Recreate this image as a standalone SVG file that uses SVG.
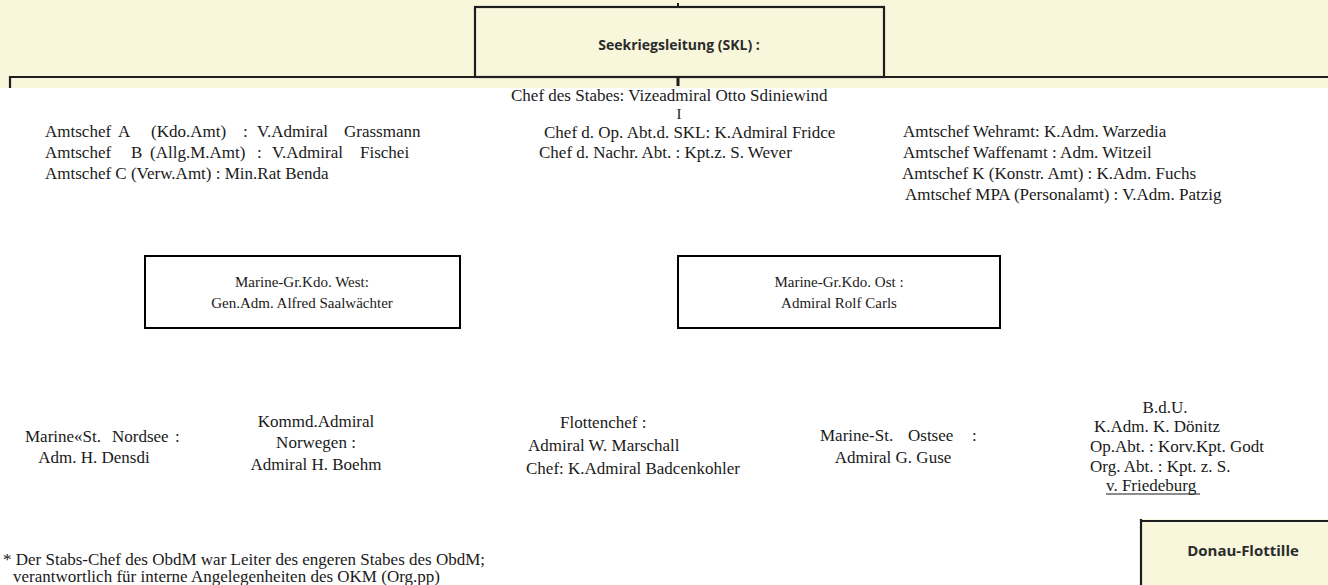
<svg xmlns="http://www.w3.org/2000/svg" width="1328" height="585" viewBox="0 0 1328 585">
  <style>
    .t { font-family: "Liberation Serif", "DejaVu Serif", serif; font-size: 17px; fill: #1a1a1a; }
    .bt { font-family: "Liberation Serif", "DejaVu Serif", serif; font-size: 15px; fill: #1a1a1a; }
    .hd { font-family: "Open Sans", "DejaVu Sans", sans-serif; font-weight: bold; font-size: 14px; fill: #2b2b2b; }
    .box { fill: #ffffff; stroke: #000000; stroke-width: 2; }
    .ln { stroke: #1e1e1e; stroke-width: 2.2; fill: none; }
    .cream { fill: #f8f7dc; }
  </style>
  <rect x="0" y="0" width="1328" height="585" fill="#ffffff"/>
  <rect class="cream" x="0" y="0" width="1328" height="88"/>

  <g id="connectors">
    <line class="ln" x1="10" y1="77" x2="1328" y2="77"/>
    <line class="ln" x1="10" y1="76" x2="10" y2="88"/>
    <line x1="678" y1="76" x2="678" y2="86" stroke="#1e1e1e" stroke-width="3"/>
    <line x1="678" y1="3" x2="678" y2="8" stroke="#1e1e1e" stroke-width="2"/>
  </g>

  <g id="skl">
    <rect x="475" y="7" width="409" height="70" fill="none" stroke="#1e1e1e" stroke-width="2.2"/>
    <text class="hd" x="679" y="50" text-anchor="middle">Seekriegsleitung (SKL) :</text>
  </g>

  <g id="stab">
    <text class="t" x="511" y="101">Chef des Stabes: Vizeadmiral Otto Sdiniewind</text>
    <text class="t" x="679" y="119" text-anchor="middle" style="font-size:15px">I</text>
    <text class="t" x="544" y="138">Chef d. Op. Abt.d. SKL: K.Admiral Fridce</text>
    <text class="t" x="539" y="158">Chef d. Nachr. Abt. : Kpt.z. S. Wever</text>
  </g>

  <g id="amtschef-left">
    <text class="t" y="137"><tspan x="45">Amtschef</tspan><tspan x="118">A</tspan><tspan x="151">(Kdo.Amt)</tspan><tspan x="243">:</tspan><tspan x="257">V.Admiral</tspan><tspan x="344">Grassmann</tspan></text>
    <text class="t" y="158"><tspan x="45">Amtschef</tspan><tspan x="131">B</tspan><tspan x="150">(Allg.M.Amt)</tspan><tspan x="257">:</tspan><tspan x="272">V.Admiral</tspan><tspan x="360">Fischei</tspan></text>
    <text class="t" x="45" y="179">Amtschef C (Verw.Amt) : Min.Rat Benda</text>
  </g>

  <g id="amtschef-right">
    <text class="t" x="903" y="137">Amtschef Wehramt: K.Adm. Warzedia</text>
    <text class="t" x="903" y="158">Amtschef Waffenamt : Adm. Witzeil</text>
    <text class="t" x="902" y="179">Amtschef K (Konstr. Amt) : K.Adm. Fuchs</text>
    <text class="t" x="905" y="200">Amtschef MPA (Personalamt) : V.Adm. Patzig</text>
  </g>

  <g id="gruppe-west">
    <rect class="box" x="145" y="256" width="315" height="72"/>
    <text class="bt" x="302" y="287" text-anchor="middle">Marine-Gr.Kdo. West:</text>
    <text class="bt" x="302" y="308" text-anchor="middle">Gen.Adm. Alfred Saalwächter</text>
  </g>

  <g id="gruppe-ost">
    <rect class="box" x="678" y="256" width="322" height="72"/>
    <text class="bt" x="839" y="287" text-anchor="middle">Marine-Gr.Kdo. Ost :</text>
    <text class="bt" x="839" y="308" text-anchor="middle">Admiral Rolf Carls</text>
  </g>

  <g id="nordsee">
    <text class="t" y="442"><tspan x="25">Marine«St.</tspan><tspan x="112">Nordsee</tspan><tspan x="175">:</tspan></text>
    <text class="t" x="94" y="463" text-anchor="middle">Adm. H. Densdi</text>
  </g>

  <g id="norwegen">
    <text class="t" x="316" y="427" text-anchor="middle">Kommd.Admiral</text>
    <text class="t" x="316" y="448" text-anchor="middle">Norwegen :</text>
    <text class="t" x="316" y="470" text-anchor="middle">Admiral H. Boehm</text>
  </g>

  <g id="flotte">
    <text class="t" x="560" y="428">Flottenchef :</text>
    <text class="t" x="528" y="451">Admiral W. Marschall</text>
    <text class="t" x="526" y="474">Chef: K.Admiral Badcenkohler</text>
  </g>

  <g id="ostsee">
    <text class="t" y="441"><tspan x="820">Marine-St.</tspan><tspan x="908">Ostsee</tspan><tspan x="972">:</tspan></text>
    <text class="t" x="893" y="463" text-anchor="middle">Admiral G. Guse</text>
  </g>

  <g id="bdu">
    <text class="t" x="1165" y="413" text-anchor="middle">B.d.U.</text>
    <text class="t" x="1094" y="432">K.Adm. K. Dönitz</text>
    <text class="t" x="1090" y="452">Op.Abt. : Korv.Kpt. Godt</text>
    <text class="t" x="1090" y="472">Org. Abt. : Kpt. z. S.</text>
    <text class="t" x="1106" y="491">v. Friedeburg</text>
    <line x1="1106" y1="494" x2="1200" y2="494" stroke="#1a1a1a" stroke-width="1.2"/>
  </g>

  <g id="donau">
    <rect class="cream" x="1141" y="519" width="187" height="66"/>
    <line class="ln" x1="1141" y1="521" x2="1328" y2="521"/>
    <line class="ln" x1="1141" y1="519" x2="1141" y2="585"/>
    <text class="hd" x="1243" y="556" text-anchor="middle" style="font-size:15px">Donau-Flottille</text>
  </g>

  <g id="footnote">
    <text class="t" x="3" y="565">* Der Stabs-Chef des ObdM war Leiter des engeren Stabes des ObdM;</text>
    <text class="t" x="13" y="582">verantwortlich für interne Angelegenheiten des OKM (Org.pp)</text>
  </g>
</svg>
